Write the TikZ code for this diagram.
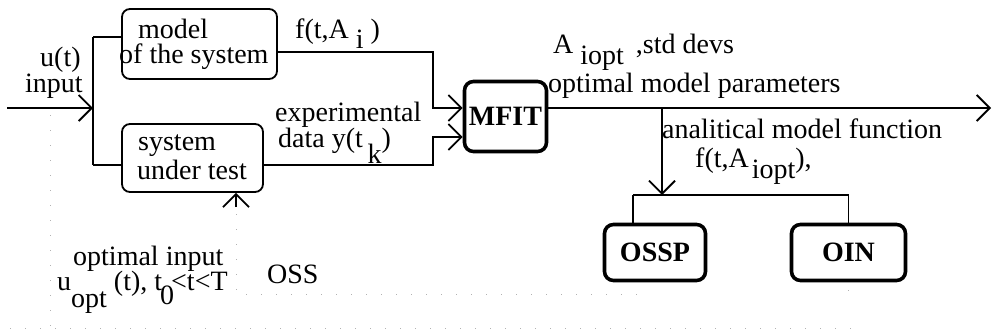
\documentclass[tikz,border=0pt]{standalone}
\usepackage{fontspec}
\setmainfont{Liberation Serif}
\usetikzlibrary{arrows.meta}
\newcommand{\lowr}[2]{\raisebox{-#1}{#2}}
\begin{document}
\begin{tikzpicture}[x=1pt,y=-1pt,
  font=\fontsize{28}{30}\selectfont,
  thinbox/.style={draw, rounded corners=8pt, line width=1.8pt, inner sep=0pt},
  thickbox/.style={draw, rounded corners=9pt, line width=3.6pt, inner sep=0pt,
     font=\fontsize{28}{30}\selectfont\bfseries},
  txt/.style={anchor=base west, inner sep=0pt},
  wire/.style={line width=1.8pt},
  arr/.style={wire, -{Straight Barb[length=13pt, width=26pt]}},
  dotline/.style={gray!60, line width=1pt, dash pattern=on 1pt off 14pt}]
\useasboundingbox (0,0) rectangle (992,335);

% boxes
\node[thinbox, minimum width=155pt, minimum height=70pt] (model) at (199.5,44) {};
\node[thinbox, minimum width=141pt, minimum height=68pt] (sys) at (192.5,158) {};
\node[thickbox, minimum width=82pt, minimum height=70pt] (mfit) at (505.5,116.5) {MFIT};
\node[thickbox, minimum width=101pt, minimum height=56pt] (ossp) at (655,252.5) {OSSP};
\node[thickbox, minimum width=114pt, minimum height=56pt] (oin) at (848.5,252.5) {OIN};

% box texts
\node[txt] (tmodel) at (138,38) {model};
\node[txt] (tof) at (119,63) {of the system};
\node[txt] (tsys) at (138,150) {system};
\node[txt] (tunder) at (137,179) {under test};

% labels
\node[txt] (tu) at (40,66) {u(t)};
\node[txt] (tin) at (25,92) {input};
\node[txt] (tf) at (295,38) {f(t,A \lowr{10pt}{i} )};
\node[txt] (texp) at (275,121) {experimental};
\node[txt] (tdata) at (278,147) {data y(t\,\lowr{16pt}{k})};
\node[txt] (taopt) at (553,53) {A \lowr{11pt}{iopt}\hspace{12pt},std devs};
\node[txt] (topt) at (548,92) {optimal model parameters};
\node[txt] (tana) at (662,138) {analitical model function};
\node[txt] (tfopt) at (695,167) {f(t,A\hspace{3pt}\lowr{11pt}{iopt}),};
\node[txt] (toi) at (73,265) {optimal input};
\node[txt] (tuopt) at (57,290) {u\lowr{17pt}{opt} (t), t\hspace{-2pt}\lowr{14pt}{0}\hspace{-3pt}<t<T};
\node[txt] (toss) at (267,283) {OSS};

% coordinates
\coordinate (inl) at (7,108);
\coordinate (j) at (93,108);
\coordinate (jt) at (93,37);
\coordinate (jb) at (93,165);
\coordinate (outend) at (991,108);
\coordinate (br) at (662,108);
\coordinate (bb) at (662,195);
\coordinate (bl) at (633,195);
\coordinate (brr) at (848.5,195);
\coordinate (up) at (236,207);

% connectors
\draw[arr] (inl) -- (j);
\draw[wire] (jt) -- (jb);
\draw[wire] (jt) -- (jt -| model.west);
\draw[wire] (jb) -- (jb -| sys.west);
\draw[arr] (model.east |- 0,52) -- (433,52) -- (433,108) -- (mfit.west |- 0,108);
\draw[arr] (sys.east |- 0,165) -- (433,165) -- (433,137) -- (mfit.west |- 0,137);
\draw[arr] (mfit.east |- outend) -- (outend);
\draw[arr] (br) -- (bb);
\draw[wire] (bl) -- (brr);
\draw[wire] (bl) -- (bl |- ossp.north);
\draw[wire] (brr) -- (oin.north);
\draw[arr] (up) -- (up |- sys.south);

% faint dotted frame
\draw[dotline] (50,115) -- (50,330);
\draw[dotline] (236,214) -- (236,294) -- (650,294);
\draw[dotline] (10,328) -- (860,328);
\draw[dotline] (848,290) -- (848,298);
\end{tikzpicture}
\end{document}
